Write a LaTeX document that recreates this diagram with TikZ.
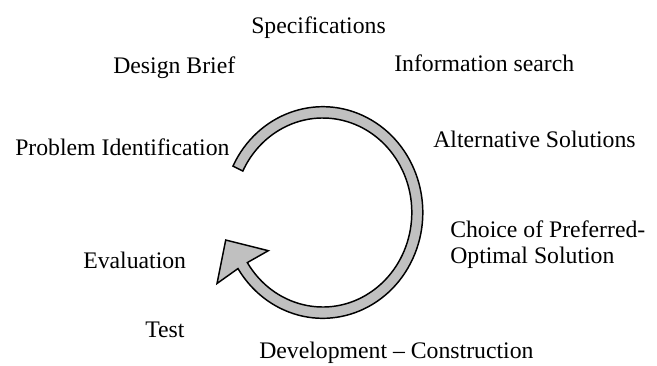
\documentclass[tikz,border=0pt]{standalone}
\usepackage{fontspec}
\setmainfont{Liberation Serif}
\usetikzlibrary{calc}
\begin{document}
\begin{tikzpicture}[x=0.75pt,y=0.75pt,yscale=-1,xscale=1,
    stage/.style={anchor=base west,inner sep=0pt,font=\fontsize{17.8}{20}\selectfont},
    cyclearrow/.style={draw=black,line width=1.1pt,line join=miter,fill={rgb,255:red,192;green,192;blue,192}}]
    \useasboundingbox (0,0) rectangle (657,365);

    %Shape: Circular Arrow
    \coordinate (hub) at (322.8,212.5);
    \draw [cyclearrow] ($(hub)+(206:100 and 105.8)$)
        arc [start angle=206,end angle=508,x radius=100,y radius=105.8]
        -- (217,283.5) -- (225.7,240) -- (268.3,250.7)
        -- ($(hub)+(508:89 and 94.5)$)
        arc [start angle=508,end angle=206,x radius=89,y radius=94.5]
        -- cycle ;

    % Text Node
    \node [stage] (spec) at (251,33) {Specifications};
    % Text Node
    \node [stage] (brief) at (113,73) {Design Brief};
    % Text Node
    \node [stage] (info) at (394,71) {Information search};
    % Text Node
    \node [stage] (problem) at (15,155) {Problem Identification};
    % Text Node
    \node [stage] (altern) at (433,147) {Alternative Solutions};
    % Text Node
    \node [stage] (choice) at (450,237) {Choice of Preferred-};
    \node [stage] (optimal) at (450,263) {Optimal Solution};
    % Text Node
    \node [stage] (eval) at (83,268) {Evaluation};
    % Text Node
    \node [stage] (test) at (145,337) {Test};
    % Text Node
    \node [stage] (develop) at (259,358) {Development -- Construction};
\end{tikzpicture}
\end{document}
